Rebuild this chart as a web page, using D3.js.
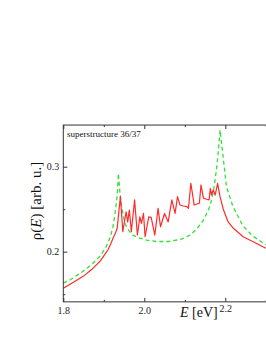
<!DOCTYPE html>
<html>
<head>
<meta charset="utf-8">
<script src="https://cdn.jsdelivr.net/npm/d3@7"></script>
<style>
  body { margin: 0; background: #fff; }
  svg { display: block; font-family: "Liberation Serif", "DejaVu Serif", serif; }
</style>
</head>
<body>
<svg id="chart" width="266" height="344"></svg>
<script>
// red solid: superstructure DOS
const redE = [1.800, 1.825, 1.849, 1.870, 1.891, 1.900, 1.910, 1.917, 1.923, 1.928, 1.933, 1.941, 1.947,
  1.955, 1.959, 1.963, 1.968, 1.976, 1.983, 1.989, 1.993, 1.998, 2.002, 2.011, 2.017, 2.026, 2.034,
  2.040, 2.050, 2.059, 2.068, 2.076, 2.082, 2.088, 2.096, 2.105, 2.109, 2.115, 2.123, 2.136, 2.140,
  2.146, 2.154, 2.160, 2.163, 2.166, 2.170, 2.175, 2.181, 2.187, 2.195, 2.207, 2.220, 2.244, 2.269, 2.300];
const redV = [0.157, 0.164, 0.171, 0.179, 0.189, 0.195, 0.202, 0.209, 0.216, 0.221, 0.2275, 0.265, 0.2235,
  0.247, 0.235, 0.249, 0.2235, 0.261, 0.2196, 0.241, 0.2334, 0.245, 0.2176, 0.241, 0.2405, 0.2196, 0.251,
  0.2294, 0.245, 0.235, 0.261, 0.245, 0.2647, 0.255, 0.2538, 0.253, 0.251, 0.2805, 0.255, 0.257, 0.2785,
  0.263, 0.2617, 0.261, 0.2746, 0.2667, 0.2726, 0.2667, 0.2805, 0.2647, 0.250, 0.235, 0.2275, 0.2176, 0.2118, 0.204];

// green dashed: reference DOS
const greenE = [1.800, 1.817, 1.849, 1.870, 1.891, 1.905, 1.915, 1.922, 1.927, 1.931, 1.934, 1.936,
  1.940, 1.944, 1.950, 1.956, 1.970, 1.985, 2.006, 2.030, 2.060, 2.090, 2.113, 2.130, 2.146, 2.160,
  2.167, 2.173, 2.178, 2.182, 2.187, 2.191, 2.195, 2.203, 2.219, 2.244, 2.269, 2.300];
const greenV = [0.163, 0.167, 0.177, 0.185, 0.195, 0.205, 0.216, 0.228, 0.242, 0.257, 0.272, 0.292,
  0.268, 0.253, 0.238, 0.229, 0.220, 0.2165, 0.2135, 0.212, 0.212, 0.2145, 0.2195, 0.227, 0.237, 0.251,
  0.262, 0.278, 0.296, 0.314, 0.343, 0.327, 0.310, 0.276, 0.253, 0.230, 0.218, 0.208];

const xMajor = [1.8, 2.0, 2.2];
const xMinor = [1.9, 2.1, 2.3];
const yMajor = [0.2, 0.3];
const yMinor = [0.15, 0.25];

const svg = d3.select("#chart");

const x = d3.scaleLinear().domain([1.8, 2.3]).range([63.3, 265.8]);
const y = d3.scaleLinear().domain([0.2, 0.3]).range([251.7, 166.7]);
const plotTop = y(0.349), plotBottom = y(0.141), plotLeft = x(1.8), plotRight = x(2.4);

svg.append("defs").append("clipPath").attr("id", "clip")
  .append("rect").attr("x", plotLeft).attr("y", plotTop)
  .attr("width", plotRight - plotLeft).attr("height", plotBottom - plotTop);

const line = d3.line().x(d => x(d[0])).y(d => y(d[1]));

svg.append("path")
  .datum(greenE.map((e, i) => [e, greenV[i]]))
  .attr("clip-path", "url(#clip)")
  .attr("d", line)
  .attr("fill", "none")
  .attr("stroke", "#33e033")
  .attr("stroke-width", 1.3)
  .attr("stroke-dasharray", "4,3");

svg.append("path")
  .datum(redE.map((e, i) => [e, redV[i]]))
  .attr("clip-path", "url(#clip)")
  .attr("d", line)
  .attr("fill", "none")
  .attr("stroke", "#ff2a2a")
  .attr("stroke-width", 1.2)
  .attr("stroke-linejoin", "round");

// frame
svg.append("rect")
  .attr("x", plotLeft).attr("y", plotTop)
  .attr("width", plotRight - plotLeft).attr("height", plotBottom - plotTop)
  .attr("fill", "none").attr("stroke", "#333").attr("stroke-width", 1);

function styleAxis(g) {
  g.select(".domain").remove();
  g.selectAll(".tick line").attr("stroke", "#333");
  g.selectAll("text").attr("fill", "#222").style("font-size", "10px")
    .style("font-family", "'Liberation Serif', serif");
}

svg.append("g").attr("transform", `translate(0,${plotBottom})`)
  .call(d3.axisBottom(x).tickValues(xMajor).tickSize(-4).tickPadding(5).tickFormat(d3.format(".1f")))
  .call(styleAxis)
  .call(g => g.selectAll(".tick text").filter(d => d === 2.2).attr("y", 3));
svg.append("g").attr("transform", `translate(0,${plotBottom})`)
  .call(d3.axisBottom(x).tickValues(xMinor).tickSize(-2).tickFormat(""))
  .call(styleAxis);
svg.append("g").attr("transform", `translate(0,${plotTop})`)
  .call(d3.axisTop(x).tickValues(xMajor).tickSize(-4).tickFormat(""))
  .call(styleAxis);
svg.append("g").attr("transform", `translate(0,${plotTop})`)
  .call(d3.axisTop(x).tickValues(xMinor).tickSize(-2).tickFormat(""))
  .call(styleAxis);
svg.append("g").attr("transform", `translate(${plotLeft},0)`)
  .call(d3.axisLeft(y).tickValues(yMajor).tickSize(-4).tickPadding(4).tickFormat(d3.format(".1f")))
  .call(styleAxis);
svg.append("g").attr("transform", `translate(${plotLeft},0)`)
  .call(d3.axisLeft(y).tickValues(yMinor).tickSize(-2).tickFormat(""))
  .call(styleAxis);

// labels
svg.append("text")
  .attr("x", 67).attr("y", 137)
  .style("font-size", "9px").attr("fill", "#111")
  .text("superstructure 36/37");

const xl = svg.append("text")
  .attr("x", 180).attr("y", 317)
  .style("font-size", "14px").attr("fill", "#111");
xl.append("tspan").style("font-style", "italic").text("E");
xl.append("tspan").text(" [eV]");

const yl = svg.append("text")
  .attr("transform", "translate(41,201) rotate(-90)")
  .attr("text-anchor", "middle")
  .style("font-size", "15px").attr("fill", "#111");
yl.append("tspan").text("ρ(");
yl.append("tspan").style("font-style", "italic").text("E");
yl.append("tspan").text(") [arb. u.]");
</script>
</body>
</html>
